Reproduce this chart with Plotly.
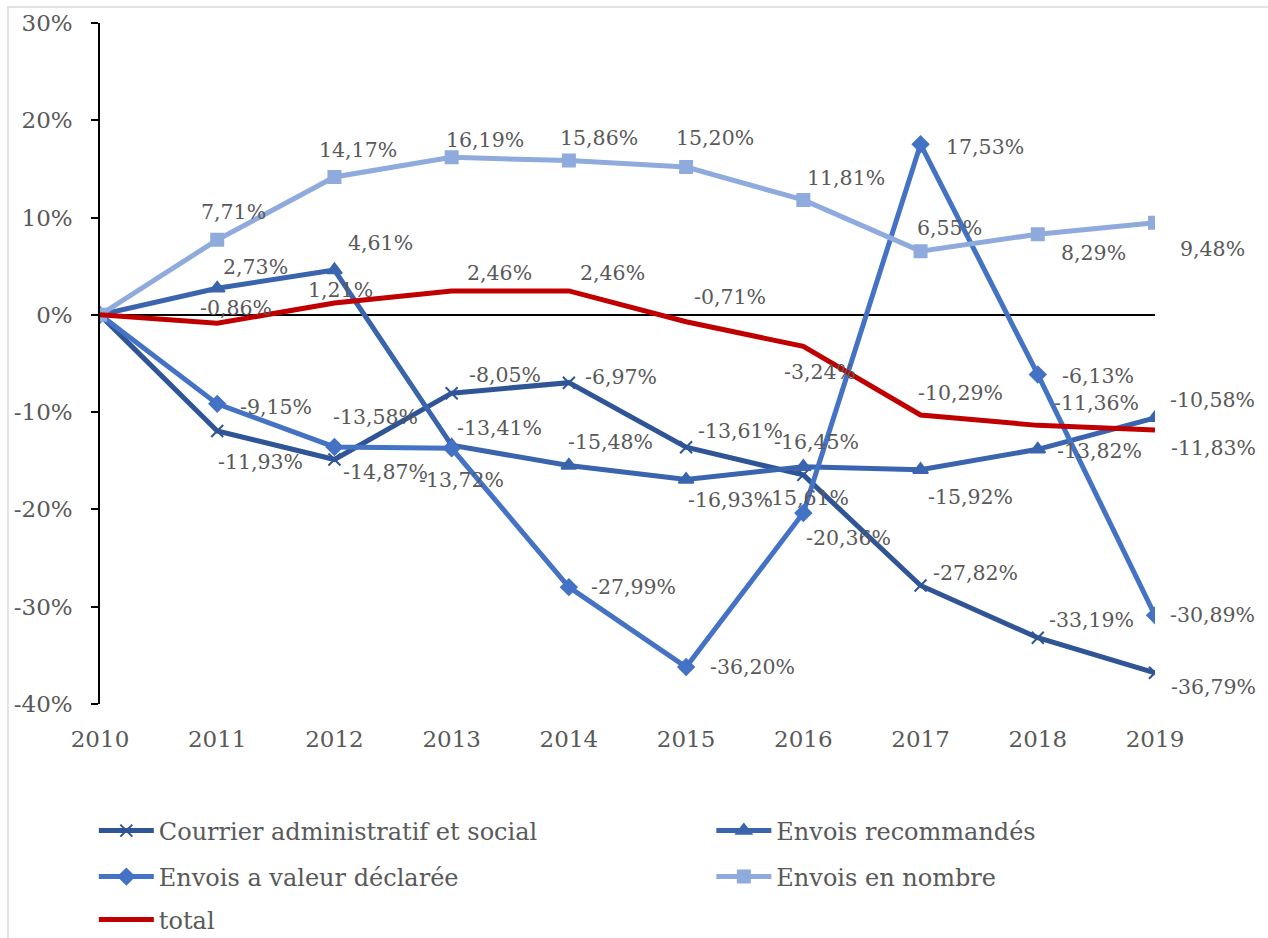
import plotly.graph_objects as go

years = [2010, 2011, 2012, 2013, 2014, 2015, 2016, 2017, 2018, 2019]

courrier = [0, -11.93, -14.87, -8.05, -6.97, -13.61, -16.45, -27.82, -33.19, -36.79]
recommandes = [0, 2.73, 4.61, -13.41, -15.48, -16.93, -15.61, -15.92, -13.82, -10.58]
valeur_declaree = [0, -9.15, -13.58, -13.72, -27.99, -36.20, -20.36, 17.53, -6.13, -30.89]
en_nombre = [0, 7.71, 14.17, 16.19, 15.86, 15.20, 11.81, 6.55, 8.29, 9.48]
total = [0, -0.86, 1.21, 2.46, 2.46, -0.71, -3.24, -10.29, -11.36, -11.83]

y_ticks = [-40, -30, -20, -10, 0, 10, 20, 30]
y_tick_text = ["-40%", "-30%", "-20%", "-10%", "0%", "10%", "20%", "30%"]

series = [
    ("Courrier administratif et social", courrier, "#2F5597", "x-thin", 12),
    ("Envois recommandés", recommandes, "#3A64AE", "triangle-up", 13),
    ("Envois a valeur déclarée", valeur_declaree, "#4472C4", "diamond", 12),
    ("Envois en nombre", en_nombre, "#8FAADC", "square", 12),
    ("total", total, "#C00000", None, 0),
]

# pixel offsets (dx, dy) of each data label from its point, 2011..2019
label_offsets = {
    "Courrier administratif et social": [(43, -31), (51, -12), (53, 18), (52, 6), (54, 16),
                                         (13, 33), (55, 13), (54, 18), (58, -14)],
    "Envois recommandés": [(38, 21), (46, 27), (48, 17), (42, 23), (44, -20),
                           (3, -31), (50, -27), (62, -2), (57, 18)],
    "Envois a valeur déclarée": [(59, -3), (41, 30), (10, -32), (65, 0), (66, 0),
                                 (45, -25), (64, -3), (60, -2), (57, 0)],
    "Envois en nombre": [(16, 28), (24, 27), (33, 17), (30, 23), (29, 29),
                         (43, 22), (29, 23), (56, -19), (57, -26)],
    "total": [(19, 15), (6, 13), (48, 18), (44, 18), (44, 25),
              (17, -26), (40, 22), (59, 22), (58, -18)],
}

FONT = "DejaVu Serif"
TEXT = "#595959"

legend_slots = [
    ("legend", 0.074, 1 - 831 / 938),
    ("legend2", 0.561, 1 - 831 / 938),
    ("legend3", 0.074, 1 - 877 / 938),
    ("legend4", 0.561, 1 - 877 / 938),
    ("legend5", 0.074, 1 - 920 / 938),
]

fig = go.Figure()
annotations = []

for i, (name, vals, color, symbol, msize) in enumerate(series):
    mode = "lines+markers" if symbol else "lines"
    marker = dict(symbol=symbol, size=msize, color=color,
                  line=dict(color=color, width=2)) if symbol else None
    fig.add_trace(go.Scatter(
        x=years, y=vals, name=name, mode=mode,
        line=dict(color=color, width=5),
        marker=marker,
        legend=legend_slots[i][0],
    ))
    for (yr, v), (dx, dy) in zip(list(zip(years, vals))[1:], label_offsets[name]):
        annotations.append(dict(
            x=yr, y=v, xref="x", yref="y",
            text=f"{v:.2f}".replace(".", ",") + "%",
            showarrow=False, xshift=dx, yshift=dy,
            font=dict(family=FONT, size=20.5, color=TEXT),
        ))

layout_legends = {}
for key, lx, ly in legend_slots:
    layout_legends[key] = dict(
        x=lx, y=ly, xref="container", yref="container",
        xanchor="left", yanchor="middle",
        bgcolor="rgba(0,0,0,0)", borderwidth=0,
        font=dict(family=FONT, size=24, color=TEXT),
        itemwidth=55,
    )

# thin grey frame around the chart area
frame = dict(
    type="rect", xref="paper", yref="paper", layer="below",
    x0=(8 - 100) / 1055, x1=(1300 - 100) / 1055,
    y0=(704 - 960) / 681, y1=(704 - 7) / 681,
    line=dict(color="#D9D9D9", width=1.5), fillcolor="rgba(0,0,0,0)",
)

fig.update_layout(
    width=1268, height=938,
    margin=dict(l=100, r=113, t=23, b=234, autoexpand=False),
    paper_bgcolor="white", plot_bgcolor="white",
    font=dict(family=FONT, size=20, color=TEXT),
    showlegend=True,
    annotations=annotations,
    shapes=[frame],
    xaxis=dict(
        range=[2010, 2019], tickvals=years, ticktext=[str(y) for y in years],
        showgrid=False, zeroline=False, showline=False,
        ticks="", ticklabelstandoff=19,
        tickfont=dict(family=FONT, size=23, color=TEXT),
    ),
    yaxis=dict(
        range=[-40, 30], tickvals=y_ticks, ticktext=y_tick_text,
        showgrid=False, zeroline=True, zerolinecolor="black", zerolinewidth=1.5,
        showline=True, linecolor="black", linewidth=1.5,
        ticks="outside", ticklen=7, tickcolor="black", tickwidth=1.5,
        ticklabelstandoff=14,
        tickfont=dict(family=FONT, size=23, color=TEXT),
    ),
    **layout_legends,
)

fig.write_html("out.html")
